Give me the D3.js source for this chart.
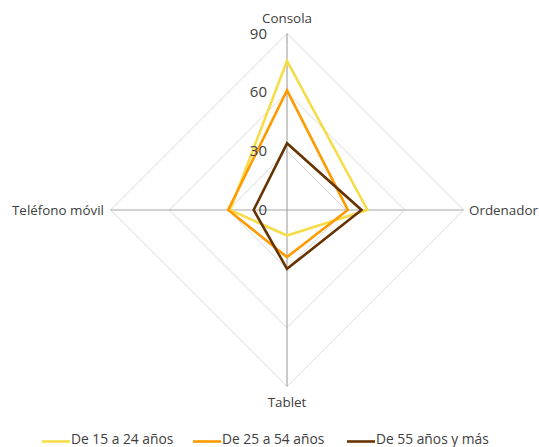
<!DOCTYPE html>
<html><head><meta charset="utf-8">
<script src="https://cdn.jsdelivr.net/npm/d3@7"></script>
<style>
body{margin:0;background:#fff;}
text{font-family:"Open Sans","Lato",sans-serif;fill:#404040;}
</style></head>
<body><svg id="c" width="539" height="447"></svg>
<script>
const categories = ["Consola","Ordenador","Tablet","Teléfono móvil"];
const seriesNames = ["De 15 a 24 años","De 25 a 54 años","De 55 años y más"];
const s1 = [76, 41, 13, 29];
const s2 = [61, 31, 24, 30];
const s3 = [34, 38, 30, 17];
const tickValues = [0, 30, 60, 90];
const colors = ["#F7DC4A", "#FF9A00", "#663300"];
const series = [s1, s2, s3];

const svg = d3.select("#c");
const cx = 287, cy = 210, R = 176.5;
const r = d3.scaleLinear().domain([0, 90]).range([0, R]);
const ang = d3.scalePoint().domain(categories).range([0, 2*Math.PI*(categories.length-1)/categories.length]);
const pt = (c, v) => { const a = ang(c) - Math.PI/2; return [cx + r(v)*Math.cos(a), cy + r(v)*Math.sin(a)]; };

const g = svg.append("g");
tickValues.filter(t => t > 0).forEach(t => {
  g.append("polygon")
    .attr("points", categories.map(c => pt(c, t).join(",")).join(" "))
    .attr("fill", "none").attr("stroke", "#d9d9d9").attr("stroke-width", 1);
});
categories.forEach(c => {
  const [x, y] = pt(c, 90);
  g.append("line").attr("x1", cx).attr("y1", cy).attr("x2", x).attr("y2", y)
    .attr("stroke", "#a6a6a6").attr("stroke-width", 1.2);
});
const line = d3.line().curve(d3.curveLinearClosed);
series.forEach((s, i) => {
  g.append("path")
    .attr("d", line(categories.map((c, j) => pt(c, s[j]))))
    .attr("fill", "none").attr("stroke", colors[i]).attr("stroke-width", 2.6)
    .attr("stroke-linejoin", "miter");
});
tickValues.forEach(t => {
  g.append("text").attr("x", cx - 20).attr("y", cy - r(t) + 5)
    .attr("text-anchor", "end").attr("font-size", 15).text(t);
});
const labPos = {
  "Consola": [cx, 23, "middle"],
  "Ordenador": [469, cy + 5, "start"],
  "Tablet": [cx, 407, "middle"],
  "Teléfono móvil": [104, cy + 5, "end"]
};
categories.forEach(c => {
  const [x, y, a] = labPos[c];
  g.append("text").attr("x", x).attr("y", y).attr("text-anchor", a)
    .attr("font-size", 13.4).text(c);
});
const lx = [42, 193, 347];
seriesNames.forEach((n, i) => {
  svg.append("line").attr("x1", lx[i]).attr("x2", lx[i] + 28)
    .attr("y1", 441.5).attr("y2", 441.5)
    .attr("stroke", colors[i]).attr("stroke-width", 2.6);
  svg.append("text").attr("x", lx[i] + 29).attr("y", 444)
    .attr("font-size", 13.8).text(n);
});
</script></body></html>
